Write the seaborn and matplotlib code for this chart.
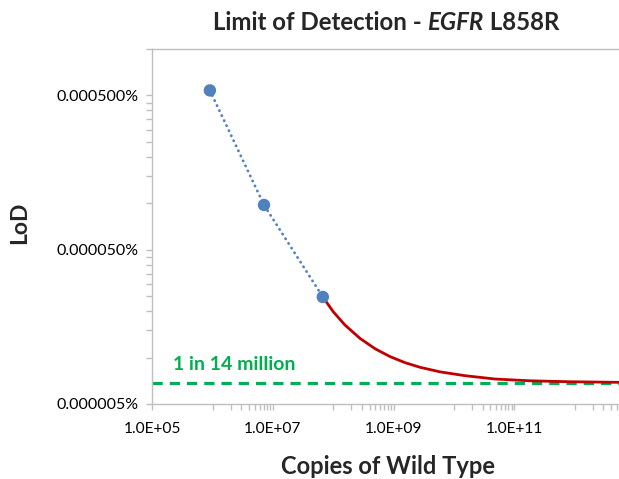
import matplotlib
matplotlib.use("Agg")
import matplotlib.pyplot as plt
import matplotlib.ticker as mticker
import seaborn as sns
import pandas as pd

# ---- data ----
copies = [9.0e5, 7.1e6, 6.7e7]
lod_pct = [5.39e-4, 9.75e-5, 2.47e-5]

fit_copies = [6.7e7, 1.0e8, 1.56e8, 2.77e8, 4.90e8, 8.69e8, 1.54e9, 2.73e9,
              5.85e9, 1.52e10, 4.77e10, 1.81e11, 8.34e11, 5.41e12, 1.0e13]
fit_lod_pct = [2.47e-5, 1.98e-5, 1.625e-5, 1.331e-5, 1.142e-5, 1.015e-5, 9.27e-6, 8.65e-6,
               8.08e-6, 7.63e-6, 7.26e-6, 7.07e-6, 6.97e-6, 6.91e-6, 6.90e-6]

limit_pct = 6.85e-6
limit_label = "1 in 14 million"

x_major = [1e5, 1e7, 1e9, 1e11]
y_major = [5e-6, 5e-5, 5e-4]

title_parts = [("Limit of Detection - ", "normal"), ("EGFR", "italic"), (" L858R", "normal")]
x_label = "Copies of Wild Type"
y_label = "LoD"

# ---- style ----
sns.set_style("white")
plt.rcParams["font.family"] = ["Lato", "DejaVu Sans"]

BLUE = "#4F81BD"
RED = "#C00000"
GREEN = "#00B050"
AXIS = "#BFBFBF"

W, H = 619, 479
fig = plt.figure(figsize=(W / 100, H / 100), dpi=100)
ax = fig.add_axes([152.3 / W, (H - 404) / H, (635 - 152.3) / W, (404 - 49) / H])

pts = pd.DataFrame({"copies": copies, "lod": lod_pct})
fit = pd.DataFrame({"copies": fit_copies, "lod": fit_lod_pct})

sns.lineplot(data=fit, x="copies", y="lod", ax=ax, color=RED, lw=2.0,
             estimator=None, sort=False, zorder=3)
sns.lineplot(data=pts, x="copies", y="lod", ax=ax, color=BLUE, lw=2.0,
             linestyle=(0, (0.1, 1.9)), dash_capstyle="round",
             estimator=None, sort=False, zorder=4)
sns.scatterplot(data=pts, x="copies", y="lod", ax=ax, color=BLUE, s=80,
                edgecolor="none", zorder=5)
ax.axhline(limit_pct, color=GREEN, lw=2.3, linestyle=(0, (3.2, 2.2)), zorder=2)

ax.set_xscale("log")
ax.set_yscale("log")
ax.set_xlim(1e5, 1e13)
ax.set_ylim(5e-6, 1e-3)

ax.xaxis.set_major_locator(mticker.FixedLocator(x_major))
x_minor = [m * k for m in [1e6, 1e8, 1e10, 1e12] for k in range(1, 10)]
ax.xaxis.set_minor_locator(mticker.FixedLocator(x_minor))
ax.xaxis.set_major_formatter(mticker.FuncFormatter(lambda v, p: f"{v:.1E}"))
ax.xaxis.set_minor_formatter(mticker.NullFormatter())

ax.yaxis.set_major_locator(mticker.FixedLocator(y_major))
y_minor = [m * k for m in [5e-6, 5e-5, 5e-4] for k in range(2, 10)]
ax.yaxis.set_minor_locator(mticker.FixedLocator(y_minor))
ax.yaxis.set_major_formatter(mticker.FuncFormatter(lambda v, p: f"{v:.6f}%"))
ax.yaxis.set_minor_formatter(mticker.NullFormatter())

for s in ["left", "bottom", "top"]:
    ax.spines[s].set_color(AXIS)
    ax.spines[s].set_linewidth(1.0)
ax.spines["right"].set_visible(False)

ax.tick_params(axis="both", which="both", direction="out", color=AXIS, width=1.0,
               labelcolor="black")
ax.tick_params(axis="y", which="both", length=4, pad=6, left=True, labelsize=11.5)
ax.tick_params(axis="x", which="both", length=4, pad=9, bottom=True, labelsize=11.2)

ax.set_xlabel("")
ax.set_ylabel("")

ax.text((173 - 152.3) / (635 - 152.3), (404 - 364) / 355, limit_label,
        transform=ax.transAxes, color=GREEN, fontsize=14, fontweight="bold",
        ha="left", va="center")

fig.text(388 / W, 1 - 466 / H, x_label, fontsize=17, fontweight="bold",
         ha="center", va="center")
fig.text(20 / W, 1 - 223 / H, y_label, fontsize=16.5, fontweight="bold",
         ha="center", va="center", rotation=90)

# title with italic part
fig.canvas.draw()
renderer = fig.canvas.get_renderer()
texts = []
for txt, style in title_parts:
    t = fig.text(0, 1 - 22 / H, txt, fontsize=17.3, fontweight="bold",
                 fontstyle=style, ha="left", va="center")
    texts.append(t)
widths = [t.get_window_extent(renderer).width for t in texts]
x0 = 386 - sum(widths) / 2
for t, w in zip(texts, widths):
    t.set_x(x0 / W)
    x0 += w

fig.savefig("out.png", dpi=100)
